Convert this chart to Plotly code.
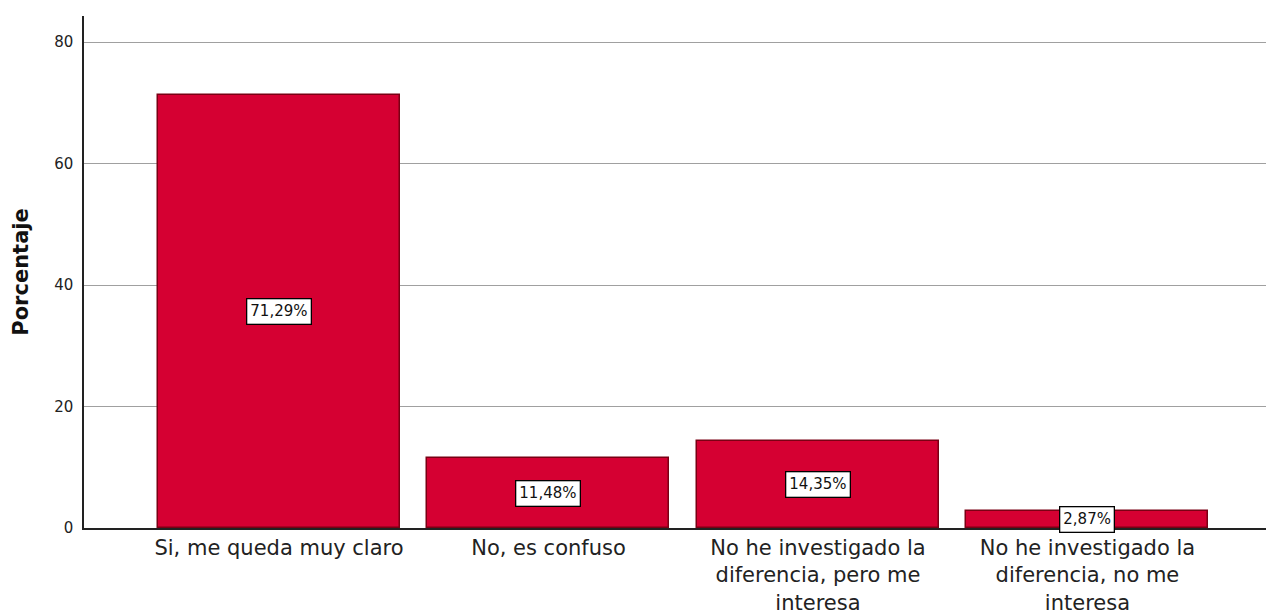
import plotly.graph_objects as go

categories = ["Si, me queda muy claro", "No, es confuso",
              "No he investigado la<br>diferencia, pero me<br>interesa",
              "No he investigado la<br>diferencia, no me<br>interesa"]
values = [71.29, 11.48, 14.35, 2.87]
labels = ["71,29%", "11,48%", "14,35%", "2,87%"]
ytick_vals = [0, 20, 40, 60, 80]

FONT = "DejaVu Sans"

fig = go.Figure()
fig.add_trace(go.Bar(
    x=list(range(len(categories))), y=values,
    width=0.898,
    marker=dict(color="#d50032", line=dict(color="#7a0014", width=1.5)),
    hoverinfo="skip",
))
for i, (v, lab) in enumerate(zip(values, labels)):
    fig.add_annotation(x=i, y=v / 2, text=lab, showarrow=False,
                       font=dict(family=FONT, size=15, color="#111"),
                       bgcolor="white", bordercolor="black", borderwidth=1.3, borderpad=3)

fig.update_layout(
    width=1274, height=614,
    margin=dict(l=76, r=0, t=8, b=94),
    paper_bgcolor="white", plot_bgcolor="white",
    showlegend=False,
    bargap=0,
    font=dict(family=FONT, color="#222"),
)
fig.update_xaxes(
    range=[-0.7236, 3.722],
    tickvals=list(range(len(categories))), ticktext=categories,
    tickfont=dict(family=FONT, size=21, color="#222"),
    showline=True, linecolor="#222", linewidth=1.5,
    showgrid=False, ticks="", zeroline=False,
)
fig.update_yaxes(
    range=[0, 84.3],
    tickvals=ytick_vals, ticktext=[str(t) for t in ytick_vals],
    tickfont=dict(family=FONT, size=15, color="#222"),
    ticklabelstandoff=6,
    showline=True, linecolor="#222", linewidth=1.5,
    showgrid=True, gridcolor="#a0a0a0", gridwidth=1.2,
    ticks="", ticklen=0, zeroline=False,
    title=dict(text="<b>Porcentaje</b>", font=dict(family=FONT, size=21, color="#111"), standoff=20),
)
fig.write_html("out.html")
